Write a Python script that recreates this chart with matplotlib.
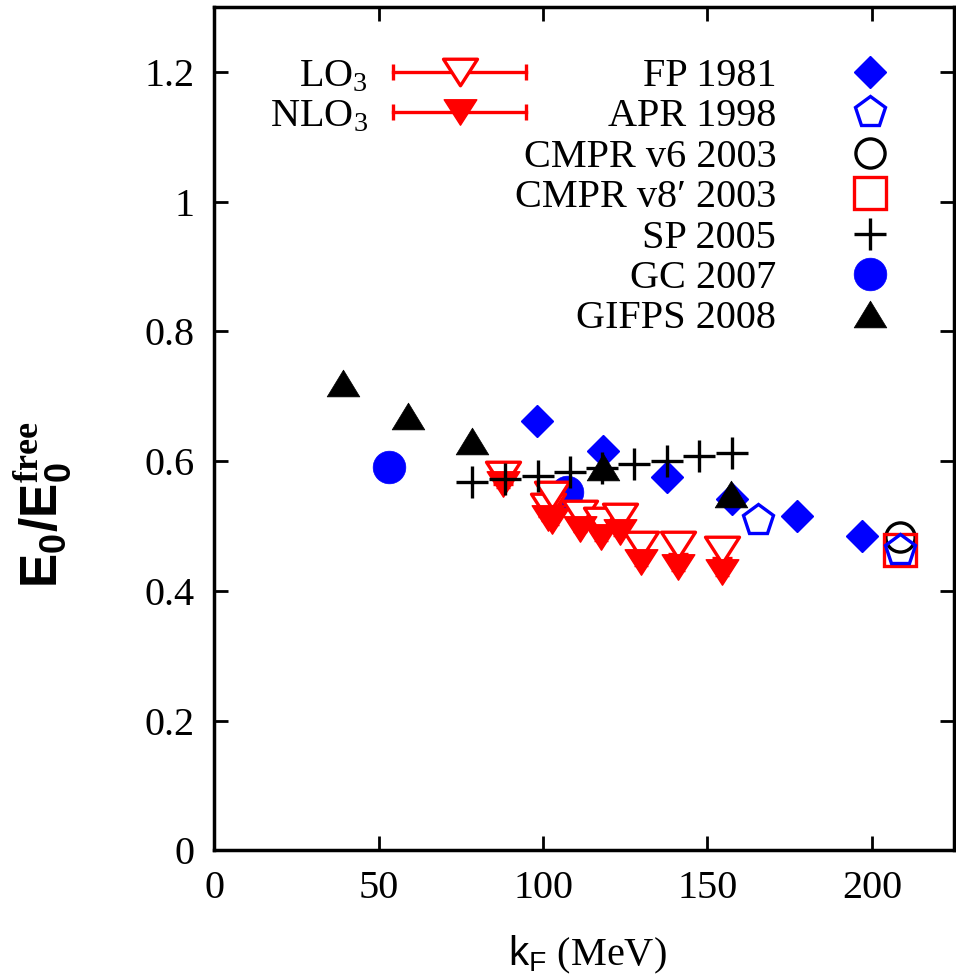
import matplotlib
matplotlib.use('Agg')
import matplotlib.pyplot as plt
from matplotlib.legend_handler import HandlerBase
from matplotlib.container import ErrorbarContainer
from matplotlib.lines import Line2D
from matplotlib.path import Path

plt.rcParams['font.family'] = ['Liberation Serif', 'DejaVu Serif']
plt.rcParams['mathtext.fontset'] = 'custom'
plt.rcParams['mathtext.rm'] = 'Liberation Serif'
plt.rcParams['mathtext.it'] = 'Liberation Serif:bold'
plt.rcParams['mathtext.bf'] = 'Liberation Sans:bold'
plt.rcParams['mathtext.sf'] = 'Liberation Sans'

# ---------------- data ----------------
lo_k = [87.9, 101.6, 102.6, 111.2, 117.5, 123.4, 129.8, 141.1, 154.3]
lo_E = [0.578, 0.529, 0.548, 0.518, 0.507, 0.514, 0.470, 0.470, 0.463]
lo_err = [0.013, 0.013, 0.013, 0.013, 0.013, 0.013, 0.013, 0.013, 0.013]
nlo_E = [0.564, 0.513, 0.508, 0.496, 0.483, 0.491, 0.444, 0.437, 0.429]
nlo_err = [0.006, 0.006, 0.006, 0.006, 0.006, 0.006, 0.006, 0.006, 0.006]

fp_k = [98.3, 118.1, 137.8, 157.5, 177.2, 197.0]
fp_E = [0.662, 0.616, 0.575, 0.542, 0.515, 0.485]
apr_k = [165.4, 208.5]
apr_E = [0.509, 0.463]
v6_k = [208.5]
v6_E = [0.483]
v8_k = [208.5]
v8_E = [0.463]
sp_k = [78.5, 88.5, 98.4, 108.2, 118.0, 127.7, 137.7, 147.5, 157.5]
sp_E = [0.568, 0.572, 0.577, 0.584, 0.589, 0.595, 0.600, 0.608, 0.613]
gc_k = [53.1, 107.2]
gc_E = [0.591, 0.553]
gifps_k = [39.3, 58.9, 78.5, 118.1, 157.3]
gifps_E = [0.721, 0.670, 0.631, 0.591, 0.549]

xticks = [0, 50, 100, 150, 200]
xticklabels = ['0', '50', '100', '150', '200']
yticks = [0, 0.2, 0.4, 0.6, 0.8, 1.0, 1.2]
yticklabels = ['0', '0.2', '0.4', '0.6', '0.8', '1', '1.2']

labels_lo = ['LO$_3$', 'NLO$_3$']
labels_ref = ['FP 1981', 'APR 1998', 'CMPR v6 2003', 'CMPR v8\u2032 2003',
              'SP 2005', 'GC 2007', 'GIFPS 2008']

BLUE = '#0000ff'
RED = '#ff0000'
BLACK = '#000000'
FS = 29

tri_up = Path([(-1, -0.82), (1, -0.82), (0, 0.82), (-1, -0.82)], closed=True)
tri_dn = Path([(-1, 0.78), (1, 0.78), (0, -0.78), (-1, 0.78)], closed=True)

fig = plt.figure(figsize=(9.56, 9.75), dpi=100)
ax = fig.add_axes([0.224, 0.128, 0.774, 0.8646])

c_lo = ax.errorbar(lo_k, lo_E, yerr=lo_err, ls='none', marker=tri_dn, ms=24.5,
                   mfc='white', mec=RED, mew=2.4, ecolor=RED, elinewidth=2.4,
                   capsize=7, capthick=2.4, zorder=4)
c_nlo = ax.errorbar(lo_k, nlo_E, yerr=nlo_err, ls='none', marker=tri_dn, ms=23.5,
                    mfc=RED, mec=RED, mew=1, ecolor=RED, elinewidth=2.2,
                    capsize=5, capthick=2.2, zorder=5)

h_fp, = ax.plot(fp_k, fp_E, ls='none', marker='D', ms=16.5, mfc=BLUE, mec=BLUE, mew=1, zorder=2)
h_apr, = ax.plot(apr_k, apr_E, ls='none', marker='p', ms=22.5, mfc='none', mec=BLUE, mew=2.4, zorder=7)
h_v6, = ax.plot(v6_k, v6_E, ls='none', marker='o', ms=21, mfc='none', mec=BLACK, mew=2.4, zorder=5)
h_v8, = ax.plot(v8_k, v8_E, ls='none', marker='s', ms=23, mfc='none', mec=RED, mew=2.4, zorder=6)
h_sp, = ax.plot(sp_k, sp_E, ls='none', marker='+', ms=23, mec=BLACK, mew=2.4, zorder=6)
h_gc, = ax.plot(gc_k, gc_E, ls='none', marker='o', ms=23.5, mfc=BLUE, mec=BLUE, mew=0.5, zorder=3)
h_gi, = ax.plot(gifps_k, gifps_E, ls='none', marker=tri_up, ms=23.5, mfc=BLACK, mec=BLACK, mew=0.5, zorder=7)

ax.set_xlim(0, 225)
ax.set_ylim(0, 1.3)
ax.set_xticks(xticks)
ax.set_xticklabels(xticklabels)
ax.set_yticks(yticks)
ax.set_yticklabels(yticklabels)
ax.tick_params(direction='in', length=10, width=2, top=True, right=True,
               labelsize=FS, pad=14)
for s in ax.spines.values():
    s.set_linewidth(2.5)

ax.set_xlabel(r'$\mathsf{k_F}$ (MeV)', fontsize=FS)
ax.xaxis.set_label_coords(0.505, -0.099)
ax.set_ylabel(r'$\mathbf{E_0/E_0^{\mathit{free}}}$', fontsize=37)
ax.yaxis.set_label_coords(-0.19, 0.41)


class HBarHandler(HandlerBase):
    def create_artists(self, legend, orig_handle, xdescent, ydescent, width,
                       height, fontsize, trans):
        dl = orig_handle[0]
        x0, x1 = -xdescent, -xdescent + width
        yc = (height - ydescent) / 2
        bar = Line2D([x0, x1], [yc, yc], color=RED, lw=2.4)
        caps = Line2D([x0, x1], [yc, yc], ls='none', marker='|', ms=12,
                      mew=2.4, color=RED)
        mk = Line2D([(x0 + x1) / 2], [yc])
        mk.update_from(dl)
        mk.set_linestyle('none')
        for a in (bar, caps, mk):
            a.set_transform(trans)
        return [bar, caps, mk]


leg1 = ax.legend([h_fp, h_apr, h_v6, h_v8, h_sp, h_gc, h_gi], labels_ref,
                 loc='upper right', bbox_to_anchor=(0.9405, 0.940),
                 frameon=False, fontsize=FS, markerfirst=False, numpoints=1,
                 handlelength=2.0, handletextpad=1.32, labelspacing=0.08,
                 borderpad=0, borderaxespad=0)
ax.add_artist(leg1)
leg2 = ax.legend([c_lo, c_nlo], labels_lo,
                 handler_map={ErrorbarContainer: HBarHandler()},
                 loc='upper right', bbox_to_anchor=(0.4216, 0.940),
                 frameon=False, fontsize=FS, markerfirst=False,
                 handlelength=3.3, handletextpad=0.62, labelspacing=0.08,
                 borderpad=0, borderaxespad=0)

fig.savefig('out.png', dpi=100)
